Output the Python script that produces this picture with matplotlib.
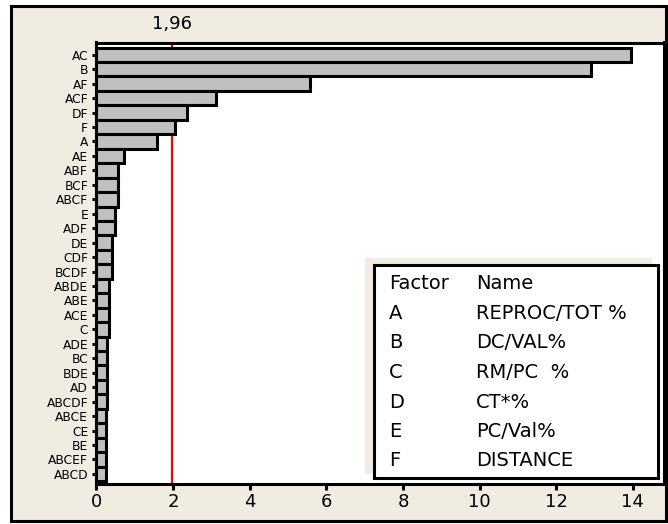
import numpy as np
import matplotlib
matplotlib.use("Agg")
import matplotlib.pyplot as plt
from matplotlib.patches import Rectangle
from matplotlib.transforms import blended_transform_factory

# Standardized effects, largest first
terms = ["AC", "B", "AF", "ACF", "DF", "F", "A", "AE", "ABF", "BCF",
         "ABCF", "E", "ADF", "DE", "CDF", "BCDF", "ABDE", "ABE", "ACE", "C",
         "ADE", "BC", "BDE", "AD", "ABCDF", "ABCE", "CE", "BE", "ABCEF", "ABCD"]
effects = [13.95, 12.92, 5.58, 3.11, 2.37, 2.06, 1.59, 0.72, 0.56, 0.56,
           0.56, 0.49, 0.49, 0.40, 0.40, 0.40, 0.33, 0.33, 0.33, 0.33,
           0.28, 0.28, 0.27, 0.27, 0.27, 0.26, 0.26, 0.26, 0.25, 0.25]
critical = 1.96
critical_label = "1,96"
x_ticks = [0, 2, 4, 6, 8, 10, 12, 14]

factor_codes = ["A", "B", "C", "D", "E", "F"]
factor_names = ["REPROC/TOT %", "DC/VAL%", "RM/PC  %", "CT*%", "PC/Val%", "DISTANCE"]

W, H = 668, 524
BEIGE = "#F0ECE2"


def fx(x):
    return x / W


def fy(y):
    return 1 - y / H


fig = plt.figure(figsize=(W / 100, H / 100), dpi=100, facecolor="white")

# outer panel
fig.add_artist(Rectangle((fx(10.5), fy(521)), fx(665.5) - fx(10.5), fy(5.5) - fy(521),
                         transform=fig.transFigure, facecolor=BEIGE,
                         edgecolor="black", linewidth=2.2, zorder=-5))

ax = fig.add_axes([fx(96.5), fy(484), fx(663.5) - fx(96.5), fy(42.5) - fy(484)])
ax.set_zorder(1)
ax.set_facecolor("white")

n = len(terms)
ypos = np.arange(n)[::-1]
ax.barh(ypos, effects, height=1.0, color="#C0C0C0", edgecolor="black",
        linewidth=2.2, zorder=2)
ax.axvline(critical, color="#FF0000", linewidth=1.6, zorder=1.5)

ax.set_xlim(0, 14.8)
ax.set_ylim(-0.7, 29.85)
ax.set_xticks(x_ticks)
ax.set_xticklabels([str(t) for t in x_ticks], fontsize=13)
ax.set_yticks(ypos)
ax.set_yticklabels(terms, fontsize=8.8)

for sp in ax.spines.values():
    sp.set_linewidth(2.2)
ax.tick_params(axis="x", length=4.5, width=2.2, pad=2)
ax.tick_params(axis="y", length=3, width=2.2, pad=3)

trans = blended_transform_factory(ax.transData, fig.transFigure)
ax.text(critical, fy(24), critical_label, transform=trans, ha="center",
        va="center", fontsize=13)

# factor key
fig.add_artist(Rectangle((fx(365), fy(474)), fx(652) - fx(365), fy(258) - fy(474),
                         transform=fig.transFigure, facecolor=BEIGE,
                         edgecolor="none", zorder=5))
fig.add_artist(Rectangle((fx(373.5), fy(477.5)), fx(657.5) - fx(373.5), fy(264.5) - fy(477.5),
                         transform=fig.transFigure, facecolor="white",
                         edgecolor="black", linewidth=2.2, zorder=6))

row_y = [282, 312, 341.5, 371, 400.5, 430, 459.5]
fig.text(fx(389), fy(row_y[0] + 7), "Factor", fontsize=14, va="baseline", zorder=7)
fig.text(fx(476), fy(row_y[0] + 7), "Name", fontsize=14, va="baseline", zorder=7)
for code, name, yy in zip(factor_codes, factor_names, row_y[1:]):
    fig.text(fx(389), fy(yy + 7), code, fontsize=14, va="baseline", zorder=7)
    fig.text(fx(476), fy(yy + 7), name, fontsize=14, va="baseline", zorder=7)

fig.savefig("out.png", dpi=100, facecolor="white")
